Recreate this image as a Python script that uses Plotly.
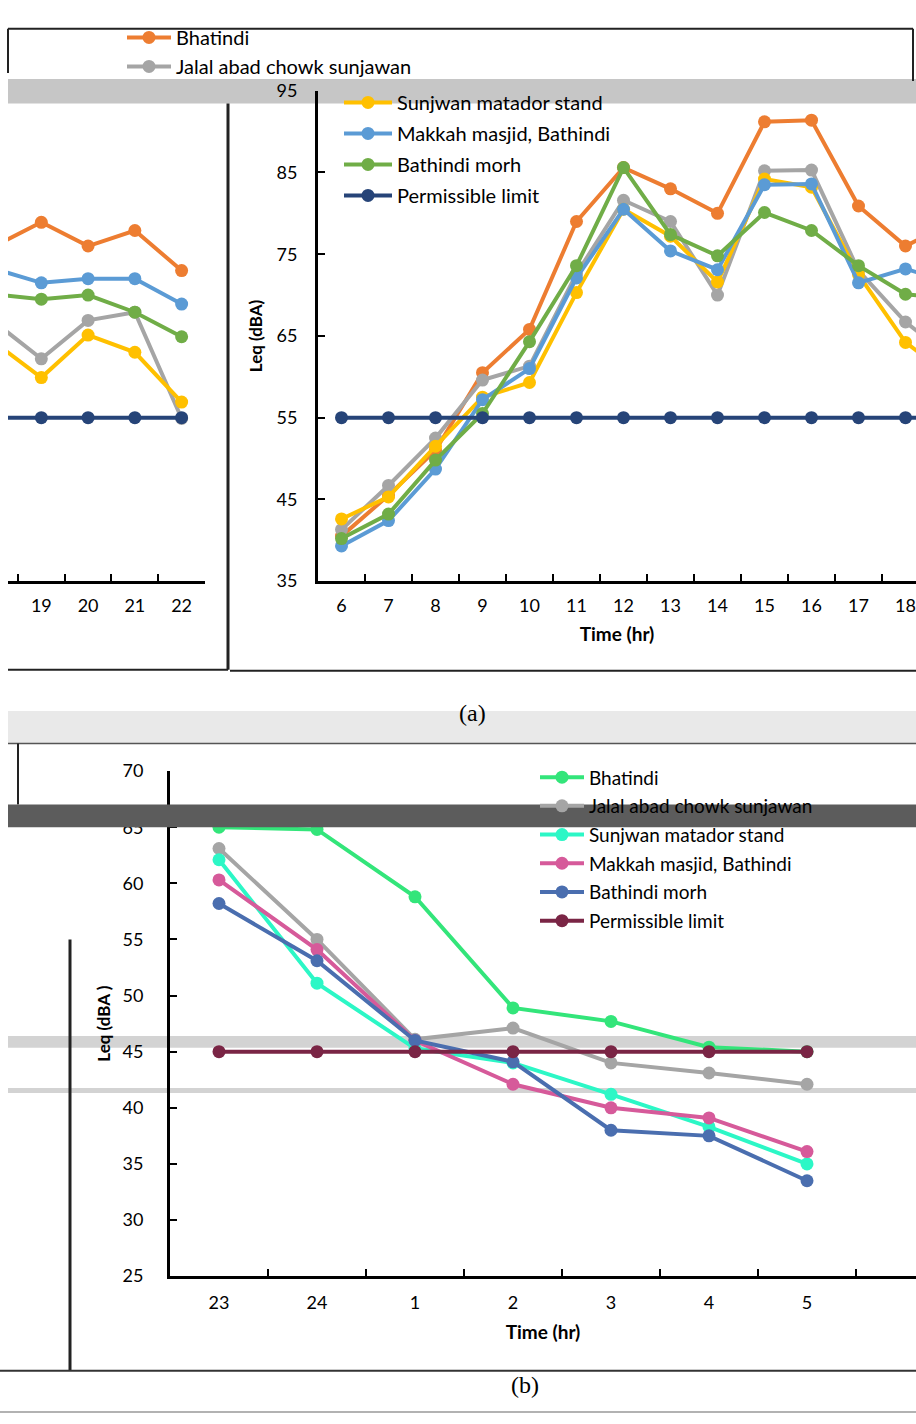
import plotly.graph_objects as go

W, H = 916, 1424
def X(px): return px / W
def Y(py): return 1 - py / H

# ---------------- data (a) day time ----------------
hours_a = [str(h) for h in range(6, 23)]
bhatindi_a = [40.5, 45.5, 51.0, 60.5, 65.8, 79.0, 85.6, 83.0, 80.0, 91.2, 91.4, 80.9, 76.0, 78.9, 76.0, 77.9, 73.0]
jalal_a    = [41.3, 46.7, 52.5, 59.6, 61.3, 72.6, 81.6, 79.0, 70.0, 85.2, 85.3, 73.0, 66.7, 62.2, 66.9, 67.9, 54.9]
sunjwan_a  = [42.6, 45.3, 51.5, 57.5, 59.3, 70.3, 80.5, 77.2, 71.6, 84.2, 83.2, 72.5, 64.2, 59.9, 65.1, 63.0, 56.9]
makkah_a   = [39.3, 42.4, 48.7, 57.2, 61.0, 72.1, 80.5, 75.4, 73.1, 83.5, 83.6, 71.5, 73.2, 71.5, 72.0, 72.0, 68.9]
morh_a     = [40.2, 43.2, 49.8, 55.5, 64.3, 73.6, 85.6, 77.4, 74.8, 80.1, 77.9, 73.6, 70.1, 69.5, 70.0, 67.9, 64.9]
limit_a    = [55] * 17

# ---------------- data (b) night time ----------------
hours_b = ["23", "24", "1", "2", "3", "4", "5"]
bhatindi_b = [65.0, 64.8, 58.8, 48.9, 47.7, 45.4, 45.0]
jalal_b    = [63.1, 55.0, 46.1, 47.1, 44.0, 43.1, 42.1]
sunjwan_b  = [62.1, 51.1, 45.3, 44.0, 41.2, 38.3, 35.0]
makkah_b   = [60.3, 54.1, 46.0, 42.1, 40.0, 39.1, 36.1]
morh_b     = [58.2, 53.1, 46.0, 44.1, 38.0, 37.5, 33.5]
limit_b    = [45] * 7

names = ["Bhatindi", "Jalal abad chowk sunjawan", "Sunjwan matador stand",
         "Makkah masjid, Bathindi", "Bathindi morh", "Permissible limit"]
colors_a = ["#ED7D31", "#A5A5A5", "#FFC000", "#5B9BD5", "#70AD47", "#264478"]
colors_b = ["#33E57A", "#A5A5A5", "#2CF7C6", "#D65A9A", "#4A6EAF", "#7A2545"]

series_a = [bhatindi_a, jalal_a, sunjwan_a, makkah_a, morh_a, limit_a]
series_b = [bhatindi_b, jalal_b, sunjwan_b, makkah_b, morh_b, limit_b]

FONT = "Lato"
fig = go.Figure()

for i, (nm, vals, col) in enumerate(zip(names, series_a, colors_a)):
    leg = "legend2" if i < 2 else "legend"
    fig.add_trace(go.Scatter(x=hours_a, y=vals, name=nm, mode="lines+markers",
                             line=dict(color=col, width=4), marker=dict(color=col, size=13),
                             xaxis="x", yaxis="y", legend=leg, legendgroup="a%d" % i))
    fig.add_trace(go.Scatter(x=hours_a, y=vals, name=nm, mode="lines+markers",
                             line=dict(color=col, width=4), marker=dict(color=col, size=13),
                             xaxis="x2", yaxis="y2", showlegend=False))

for i, (nm, vals, col) in enumerate(zip(names, series_b, colors_b)):
    fig.add_trace(go.Scatter(x=hours_b, y=vals, name=nm, mode="lines+markers",
                             line=dict(color=col, width=4), marker=dict(color=col, size=13),
                             xaxis="x3", yaxis="y3", legend="legend3", legendgroup="b%d" % i))

axis_common = dict(showline=True, linecolor="black", linewidth=3, showgrid=False,
                   zeroline=False, ticks="inside", tickcolor="black", tickwidth=2, ticklen=7,
                   tickfont=dict(family=FONT, size=18, color="black"))

top_dom = [Y(578), Y(80)]
fig.update_layout(
    width=W, height=H, margin=dict(l=0, r=0, t=0, b=0),
    paper_bgcolor="white", plot_bgcolor="rgba(0,0,0,0)",
    font=dict(family=FONT, color="black"),
    xaxis=dict(axis_common, type="category", domain=[X(318), 1], anchor="y",
               range=[-0.5, -0.5 + (916 - 318) / 47.0], tickson="boundaries", ticklabelstandoff=6,
               title=dict(text="<b>Time (hr)</b>", font=dict(family=FONT, size=19), standoff=14)),
    yaxis=dict(axis_common, domain=top_dom, anchor="x", range=[35, 95], tickvals=[35, 45, 55, 65, 75, 85, 95],
               ticklabelstandoff=14,
               title=dict(text="<b>Leq (dBA)</b>", font=dict(family=FONT, size=17), standoff=10)),
    xaxis2=dict(axis_common, type="category", domain=[X(8), X(205)], anchor="y2",
                range=[12.5 - 10 / 47.0, 16.5], tickson="boundaries", ticklabelstandoff=6),
    yaxis2=dict(domain=top_dom, anchor="x2", range=[35, 95], visible=False),
    xaxis3=dict(axis_common, type="category", domain=[X(170), 1], anchor="y3",
                range=[-0.5, -0.5 + (916 - 170) / 98.0], tickson="boundaries", ticklabelstandoff=8,
                title=dict(text="<b>Time (hr)</b>", font=dict(family=FONT, size=19), standoff=14)),
    yaxis3=dict(axis_common, domain=[Y(1284), Y(771)], anchor="x3", range=[25, 70], dtick=5,
                ticklabelstandoff=20,
                title=dict(text="<b>Leq (dBA )</b>", font=dict(family=FONT, size=17), standoff=8)),
    legend=dict(x=X(339), y=Y(72), xanchor="left", yanchor="top", bgcolor="rgba(0,0,0,0)",
                font=dict(family=FONT, size=20), itemwidth=48, tracegroupgap=2),
    legend2=dict(x=X(122), y=Y(6), xanchor="left", yanchor="top", bgcolor="rgba(0,0,0,0)",
                 font=dict(family=FONT, size=20), itemwidth=44, tracegroupgap=0),
    legend3=dict(x=X(535), y=Y(758), xanchor="left", yanchor="top", bgcolor="rgba(0,0,0,0)",
                 font=dict(family=FONT, size=19), itemwidth=44, tracegroupgap=1),
    showlegend=True,
)

shapes = []
def line(x0, y0, x1, y1, color="#222", width=2, layer="above"):
    shapes.append(dict(type="line", xref="paper", yref="paper", x0=X(x0), y0=Y(y0), x1=X(x1), y1=Y(y1),
                       line=dict(color=color, width=width), layer=layer))
def rect(x0, y0, x1, y1, color, layer="above"):
    shapes.append(dict(type="rect", xref="paper", yref="paper", x0=X(x0), y0=Y(y0), x1=X(x1), y1=Y(y1),
                       fillcolor=color, line=dict(width=0), layer=layer))

# frame of panel (a)
line(8, 17, 913, 17, layer="below")
line(8, 17, 8, 62)
line(913, 17, 913, 70)
rect(8, 68, 916, 93, "#C6C6C6", layer="below")
line(228, 93, 228, 668, width=3)
line(8, 668, 228, 668)
line(230, 669, 916, 669)
# bands between panels
rect(8, 710, 916, 743, "#E9E9E9", layer="below")
line(8, 743, 916, 743, color="#555", width=1.5)
line(18, 743, 18, 805)
rect(8, 805, 916, 828, "#5C5C5C")
rect(8, 1040, 916, 1052, "#D3D3D3", layer="below")
rect(8, 1093, 916, 1098, "#D3D3D3", layer="below")
line(70, 942, 70, 1380, width=3)
line(0, 1380, 916, 1380, color="#333", width=2)
line(0, 1422, 916, 1422, color="#999", width=1.5)
fig.update_layout(shapes=shapes)

fig.add_annotation(x=X(472), y=Y(712), xref="paper", yref="paper", text="(a)", showarrow=False,
                   font=dict(family="Liberation Serif", size=24, color="black"))
fig.add_annotation(x=X(525), y=Y(1410), xref="paper", yref="paper", text="(b)", showarrow=False,
                   font=dict(family="Liberation Serif", size=24, color="black"))

fig.write_html("out.html", config={"displayModeBar": False},
               post_script="document.body.style.margin='0px';")
